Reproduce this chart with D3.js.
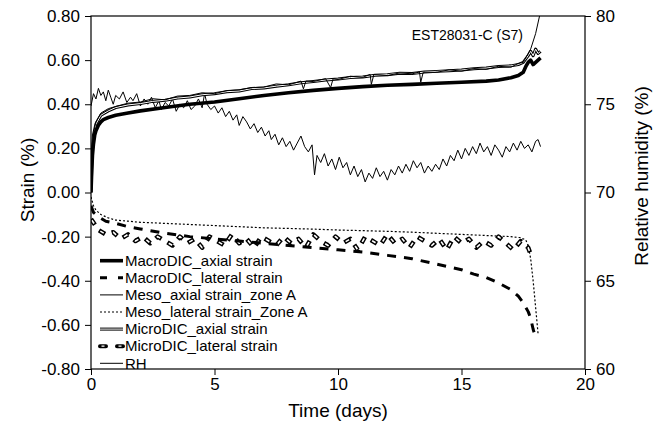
<!DOCTYPE html>
<html><head><meta charset="utf-8">
<script src="https://cdn.jsdelivr.net/npm/d3@7"></script>
<style>body{margin:0;background:#fff}svg{display:block}text{font-family:"Liberation Sans",Arial,sans-serif;fill:#000}</style>
</head><body>
<svg id="c" width="666" height="424"></svg>
<script>
// ---- data (time in days, strain in %, RH in %) ----
const timeTicks = [0, 5, 10, 15, 20];
const strainTicks = [-0.8, -0.6, -0.4, -0.2, 0, 0.2, 0.4, 0.6, 0.8];
const rhTicks = [60, 65, 70, 75, 80];
const legendLabels = ["MacroDIC_axial strain", "MacroDIC_lateral strain", "Meso_axial strain_zone A",
  "Meso_lateral strain_Zone A", "MicroDIC_axial strain", "MicroDIC_lateral strain", "RH"];
const annotation = "EST28031-C (S7)";

const macroAxial = [[0,0],[0.03,0.10],[0.06,0.17],[0.1,0.22],[0.15,0.26],[0.2,0.28],[0.3,0.305],[0.4,0.32],[0.5,0.33],[0.7,0.34],[1,0.35],[1.5,0.36],[2,0.37],[3,0.385],[4,0.40],[5,0.41],[6,0.425],[7,0.44],[8,0.452],[9,0.463],[10,0.472],[11,0.48],[12,0.486],[13,0.49],[14,0.495],[15,0.50],[16,0.505],[16.5,0.51],[17,0.52],[17.3,0.53],[17.5,0.545],[17.6,0.57],[17.7,0.59],[17.8,0.60],[17.9,0.58],[18.0,0.59],[18.1,0.60],[18.2,0.61]];
const macroLateral = [[0,-0.06],[0.1,-0.09],[0.3,-0.11],[0.6,-0.13],[1,-0.14],[1.5,-0.155],[2,-0.165],[3,-0.185],[4,-0.20],[5,-0.21],[6,-0.22],[7,-0.23],[8,-0.24],[9,-0.25],[10,-0.26],[11,-0.27],[12,-0.285],[13,-0.30],[14,-0.325],[15,-0.35],[15.5,-0.37],[16,-0.385],[16.5,-0.41],[17,-0.44],[17.3,-0.47],[17.5,-0.50],[17.7,-0.54],[17.8,-0.57],[17.9,-0.62],[18.0,-0.655]];
const mesoAxial = [[0,0],[0.05,0.2],[0.1,0.27],[0.2,0.32],[0.4,0.36],[0.7,0.38],[1,0.39],[1.5,0.405],[2,0.41],[2.5,0.425],[3,0.42],[3.5,0.437],[4,0.44],[4.5,0.452],[5,0.448],[5.5,0.462],[6,0.466],[6.5,0.475],[7,0.478],[7.5,0.492],[8,0.488],[8.5,0.505],[8.6,0.47],[8.7,0.505],[9,0.503],[9.5,0.516],[9.7,0.475],[9.8,0.515],[10,0.512],[10.5,0.527],[11,0.522],[11.3,0.535],[11.35,0.49],[11.45,0.534],[12,0.53],[12.5,0.542],[13,0.538],[13.3,0.546],[13.35,0.50],[13.45,0.545],[14,0.545],[14.5,0.556],[15,0.55],[15.5,0.562],[16,0.558],[16.5,0.572],[17,0.568],[17.3,0.585],[17.5,0.59],[17.6,0.61],[17.7,0.63],[17.8,0.65],[18.0,0.72],[18.2,0.82]];
const mesoLateral = [[0,-0.02],[0.05,-0.04],[0.1,-0.06],[0.2,-0.08],[0.4,-0.10],[0.7,-0.115],[1,-0.125],[1.5,-0.13],[2,-0.135],[3,-0.14],[4,-0.145],[5,-0.15],[6,-0.155],[7,-0.16],[8,-0.163],[9,-0.166],[10,-0.17],[11,-0.173],[12,-0.176],[13,-0.18],[14,-0.185],[15,-0.19],[16,-0.195],[17,-0.20],[17.4,-0.205],[17.6,-0.215],[17.7,-0.24],[17.8,-0.30],[17.9,-0.40],[18.0,-0.52],[18.1,-0.64]];
const microAxial = [[0,0],[0.05,0.18],[0.1,0.26],[0.2,0.31],[0.4,0.35],[0.7,0.37],[1,0.385],[1.5,0.397],[2,0.403],[2.5,0.413],[3,0.418],[3.5,0.428],[4,0.433],[4.5,0.443],[5,0.448],[5.5,0.457],[6,0.46],[6.5,0.471],[7,0.474],[7.5,0.482],[8,0.488],[8.5,0.497],[9,0.503],[9.5,0.51],[10,0.514],[10.5,0.521],[11,0.524],[11.5,0.531],[12,0.534],[12.5,0.541],[13,0.539],[13.5,0.546],[14,0.549],[14.5,0.552],[15,0.555],[15.5,0.561],[16,0.564],[16.5,0.571],[17,0.574],[17.3,0.58],[17.5,0.59],[17.7,0.62],[17.8,0.64],[17.9,0.62],[18.0,0.65],[18.1,0.63],[18.2,0.64]];
const microLateral = [[0,-0.12],[0.3,-0.17],[0.6,-0.19],[0.9,-0.18],[1.2,-0.21],[1.5,-0.19],[1.8,-0.22],[2.1,-0.20],[2.4,-0.23],[2.7,-0.20],[3.0,-0.22],[3.3,-0.24],[3.6,-0.20],[3.9,-0.23],[4.2,-0.21],[4.5,-0.25],[4.8,-0.20],[5.1,-0.22],[5.4,-0.24],[5.7,-0.19],[6.0,-0.23],[6.3,-0.21],[6.6,-0.25],[6.9,-0.20],[7.2,-0.22],[7.5,-0.24],[7.8,-0.20],[8.1,-0.23],[8.4,-0.21],[8.7,-0.25],[9.0,-0.19],[9.3,-0.22],[9.6,-0.24],[9.9,-0.20],[10.2,-0.23],[10.5,-0.21],[10.8,-0.26],[11.1,-0.20],[11.4,-0.22],[11.7,-0.24],[12.0,-0.19],[12.3,-0.23],[12.6,-0.21],[12.9,-0.25],[13.2,-0.20],[13.5,-0.22],[13.8,-0.24],[14.1,-0.21],[14.4,-0.26],[14.7,-0.20],[15.0,-0.23],[15.3,-0.21],[15.6,-0.25],[15.9,-0.22],[16.2,-0.24],[16.5,-0.20],[16.8,-0.23],[17.1,-0.26],[17.4,-0.22],[17.7,-0.25],[17.8,-0.28]];
const rh = [[0,74.9],[0.1,75.6],[0.2,75.3],[0.3,75.9],[0.4,75.5],[0.5,75.7],[0.6,75.2],[0.7,75.8],[0.8,75.4],[0.9,75.0],[1.0,75.5],[1.15,75.3],[1.3,75.7],[1.45,75.1],[1.6,75.4],[1.7,75.2],[1.85,75.6],[2.0,74.9],[2.15,75.3],[2.3,75.0],[2.45,75.4],[2.6,74.8],[2.75,75.2],[2.85,74.7],[3.0,75.1],[3.15,74.9],[3.3,75.3],[3.45,74.6],[3.6,75.0],[3.75,74.8],[3.9,75.2],[4.05,74.7],[4.2,74.9],[4.35,75.3],[4.5,74.8],[4.6,75.6],[4.7,75.0],[4.85,74.7],[5.0,74.9],[5.15,74.5],[5.3,74.8],[5.45,74.3],[5.6,74.6],[5.75,74.1],[5.9,74.4],[6.0,73.8],[6.15,74.3],[6.3,74.0],[6.45,73.6],[6.6,73.9],[6.75,73.4],[6.9,73.7],[7.05,73.2],[7.2,73.5],[7.3,73.0],[7.45,73.3],[7.6,72.7],[7.75,73.1],[7.9,72.6],[8.05,72.9],[8.2,72.4],[8.35,72.8],[8.5,73.2],[8.65,72.6],[8.8,72.3],[8.95,72.7],[9.05,71.0],[9.15,72.1],[9.3,71.7],[9.45,72.2],[9.6,71.5],[9.75,71.9],[9.9,71.3],[10.05,72.0],[10.2,71.4],[10.35,71.7],[10.5,71.0],[10.65,71.5],[10.8,70.9],[10.95,71.3],[11.1,70.6],[11.25,71.1],[11.4,70.8],[11.55,71.4],[11.7,70.9],[11.85,71.2],[12.0,70.7],[12.15,71.3],[12.3,71.0],[12.45,71.5],[12.6,71.1],[12.75,71.6],[12.9,71.2],[13.05,71.8],[13.2,71.4],[13.35,71.7],[13.5,71.1],[13.65,71.5],[13.8,71.2],[13.95,71.6],[14.1,71.3],[14.25,71.9],[14.4,71.5],[14.55,72.1],[14.7,71.8],[14.85,72.4],[15.0,71.9],[15.15,72.5],[15.3,72.1],[15.45,72.6],[15.6,72.2],[15.75,72.8],[15.9,72.3],[16.05,72.6],[16.2,72.1],[16.35,72.7],[16.5,72.4],[16.65,72.0],[16.8,72.6],[16.95,72.3],[17.1,72.8],[17.25,72.4],[17.4,72.9],[17.55,72.5],[17.7,72.7],[17.85,72.3],[18.0,72.9],[18.1,73.0],[18.2,72.6]];

// ---- layout ----
const svg = d3.select("#c");
const x = d3.scaleLinear().domain([0, 20]).range([91, 585]);
const y = d3.scaleLinear().domain([-0.8, 0.8]).range([369, 16]);
const y2 = d3.scaleLinear().domain([60, 80]).range([369, 16]);

svg.append("defs").append("clipPath").attr("id", "clip")
  .append("rect").attr("x", 91).attr("y", 16).attr("width", 494).attr("height", 353);

const plot = svg.append("g").attr("clip-path", "url(#clip)");
const lineS = d3.line().x(d => x(d[0])).y(d => y(d[1]));
const lineR = d3.line().x(d => x(d[0])).y(d => y2(d[1]));

function draw(g, data, gen, styles) {
  styles.forEach(s => {
    const p = g.append("path").datum(data).attr("d", gen).attr("fill", "none")
      .attr("stroke", s.c).attr("stroke-width", s.w).attr("stroke-linejoin", "round");
    if (s.da) p.attr("stroke-dasharray", s.da);
    if (s.off) p.attr("stroke-dashoffset", s.off);
    if (s.cap) p.attr("stroke-linecap", s.cap);
  });
}
const styleRH = [{c:"#000", w:1}];
const styleMesoLat = [{c:"#000", w:1.2, da:"2,2"}];
const styleMicroLat = [{c:"#000", w:4.5, da:"7,7"}, {c:"#fff", w:1.6, da:"4,10", off:-1.5}];
const styleMacroLat = [{c:"#000", w:3, da:"9,8"}];
const styleMesoAx = [{c:"#000", w:1}];
const styleMicroAx = [{c:"#000", w:3}, {c:"#fff", w:1}];
const styleMacroAx = [{c:"#000", w:3.6}];

draw(plot, rh, lineR, styleRH);
draw(plot, mesoLateral, lineS, styleMesoLat);
draw(plot, microLateral, lineS, styleMicroLat);
draw(plot, macroLateral, lineS, styleMacroLat);
draw(plot, microAxial, lineS, styleMicroAx);
draw(plot, mesoAxial, lineS, styleMesoAx);
draw(plot, macroAxial, lineS, styleMacroAx);

// ---- axes ----
const fmt2 = d => d.toFixed(2);
const gl = svg.append("g").attr("transform", "translate(91,0)")
  .call(d3.axisLeft(y).tickValues(strainTicks).tickFormat(fmt2).tickSize(6).tickPadding(5));
const gr = svg.append("g").attr("transform", "translate(585,0)")
  .call(d3.axisRight(y2).tickValues(rhTicks).tickFormat(d3.format("d")).tickSize(6).tickPadding(5));
const gb = svg.append("g").attr("transform", "translate(0,369)")
  .call(d3.axisBottom(x).tickValues(timeTicks).tickFormat(d3.format("d")).tickSize(6).tickPadding(3));
[gl, gr, gb].forEach(g => {
  g.select(".domain").remove();
  g.selectAll("text").attr("font-size", 17).attr("font-family", "Liberation Sans, Arial, sans-serif").attr("fill", "#000");
  g.selectAll("line").attr("stroke", "#000").attr("stroke-width", 1);
});
svg.append("rect").attr("x", 91).attr("y", 16).attr("width", 494).attr("height", 353)
  .attr("fill", "none").attr("stroke", "#000").attr("stroke-width", 1.2);

// titles
svg.append("text").attr("transform", "translate(27,180) rotate(-90)").attr("text-anchor", "middle")
  .attr("dy", "0.35em").attr("font-size", 19).text("Strain (%)");
svg.append("text").attr("transform", "translate(641,176) rotate(-90)").attr("text-anchor", "middle")
  .attr("dy", "0.35em").attr("font-size", 19).text("Relative humidity (%)");
svg.append("text").attr("x", 338).attr("y", 417).attr("text-anchor", "middle")
  .attr("font-size", 19).text("Time (days)");
svg.append("text").attr("x", 523).attr("y", 40).attr("text-anchor", "end")
  .attr("font-size", 14).text(annotation);

// legend
const legStyles = [styleMacroAx, [{c:"#000", w:3, da:"7,11"}], styleMesoAx, styleMesoLat, styleMicroAx,
  [{c:"#000", w:4, da:"6,11", cap:"round"}, {c:"#fff", w:1.3, da:"3,14", off:-1.5}], styleRH];
const leg = svg.append("g");
legendLabels.forEach((lab, i) => {
  const yy = 260.7 + i * 17.1;
  const gg = leg.append("g");
  draw(gg, [[0, yy], [1, yy]], d3.line().x(d => 100 + d[0] * 23).y(d => d[1]), legStyles[i]);
  gg.append("text").attr("x", 125).attr("y", yy).attr("dy", "0.35em").attr("font-size", 15).text(lab);
});
</script>
</body></html>
